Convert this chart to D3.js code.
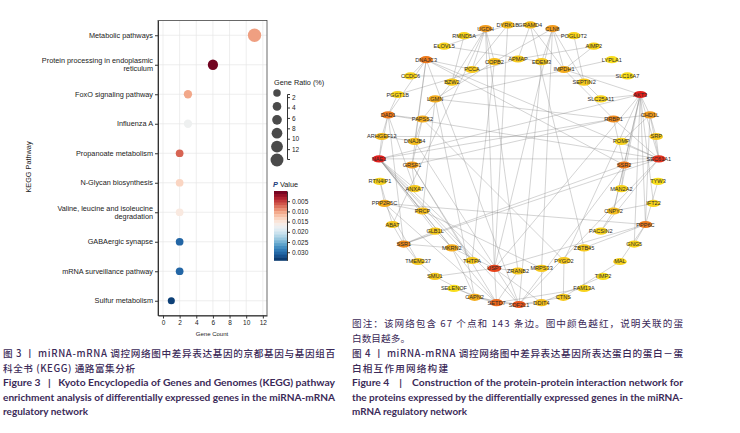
<!DOCTYPE html>
<html><head><meta charset="utf-8">
<script src="https://cdn.jsdelivr.net/npm/d3@7"></script>
<style>body{margin:0;background:#fff}svg{display:block}text{white-space:pre}</style>
</head><body>
<svg id="c" width="740" height="433"></svg>
<script>
// ---------- Figure 3 data ----------
const pathways = ["Metabolic pathways","Protein processing in endoplasmic\nreticulum","FoxO signaling pathway","Influenza A","Propanoate metabolism","N-Glycan biosynthesis","Valine, leucine and isoleucine\ndegradation","GABAergic synapse","mRNA surveillance pathway","Sulfur metabolism"];
const geneCount = [11,6,3,3,2,2,2,2,2,1];
const pValue = [0.0100,0.0005,0.0105,0.0175,0.0070,0.0135,0.0155,0.0305,0.0305,0.0330];
const geneRatio = [12.9,7.1,3.5,3.5,2.4,2.4,2.4,2.4,2.4,1.2];
const countTicks = [0,2,4,6,8,10,12];
const ratioTicks = [2,4,6,8,10,12];
const pTicks = [0.005,0.010,0.015,0.020,0.025,0.030];

// ---------- Figure 4 data ----------
const outerRing = ["GRAMD4","CLN8","POGLUT2","AIMP2","LYPLA1","SLC16A7","AKT3","CHD1L","SRP","SEC61A1","TYW3","IFT22","PPP6C","GNG5","MAL","TIMP2","FAM13A","CTNS","DDIT4","SDF2L1","SETD7","CAPN2","SELENOF","SMU1","TMEM237","SSR1","ABAT","PPP2R5C","RTN4IP1","NAE1","ARHGEF12","DAD1","PGGT1B","CCDC6","DNAJC3","ELOVL5","RMND5A","UGDH","DYRK1B"];
const innerRing = ["APMAP","EDEM3","IMPDH1","SEPTIN2","SLC25A11","RRBP1","POMP","SSR2","MAN2A2","CNPY2","PACSIN2","ZBTB45","PYGO2","MRPS33","ZRANB2","USP7","THTPA","MKRN2","GLB1L","PRCP","ANXA7","GRSF1","DNAJB4","PAPSS2","LGMN","BZW2","PCCA","COPB2"];
const edges = [
["AKT3","SEC61A1"],["AKT3","CHD1L"],["AKT3","SSR2"],["AKT3","PPP6C"],["AKT3","MAN2A2"],["AKT3","CNPY2"],["AKT3","GNG5"],["AKT3","IFT22"],["AKT3","SLC25A11"],["AKT3","NAE1"],["AKT3","USP7"],["AKT3","PYGO2"],["AKT3","IMPDH1"],
["NAE1","DAD1"],["NAE1","ARHGEF12"],["NAE1","USP7"],["NAE1","THTPA"],["NAE1","MKRN2"],["NAE1","GLB1L"],["NAE1","ANXA7"],["NAE1","PRCP"],["NAE1","SDF2L1"],["NAE1","SETD7"],["NAE1","RRBP1"],["NAE1","SEC61A1"],
["SEC61A1","SSR2"],["SEC61A1","SSR1"],["SEC61A1","DAD1"],["SEC61A1","RRBP1"],["SEC61A1","SRP"],["SEC61A1","POMP"],["SEC61A1","DNAJC3"],["SEC61A1","SDF2L1"],["SEC61A1","CHD1L"],["SEC61A1","PACSIN2"],
["USP7","SETD7"],["USP7","ZRANB2"],["USP7","SMU1"],["USP7","MKRN2"],["USP7","CLN8"],["USP7","UGDH"],["USP7","PPP6C"],["USP7","DYRK1B"],["USP7","DDIT4"],
["SDF2L1","DNAJC3"],["SDF2L1","SSR2"],["SDF2L1","DNAJB4"],["SDF2L1","CAPN2"],["SDF2L1","SETD7"],["SDF2L1","CTNS"],["SDF2L1","DDIT4"],["SDF2L1","EDEM3"],
["SETD7","CAPN2"],["SETD7","SELENOF"],["SETD7","ZRANB2"],["SETD7","PPP2R5C"],["SETD7","GRSF1"],["SETD7","FAM13A"],
["DAD1","DNAJC3"],["DAD1","PAPSS2"],["DAD1","ARHGEF12"],["DAD1","SSR1"],["DAD1","PGGT1B"],["DAD1","ANXA7"],
["DNAJC3","DNAJB4"],["DNAJC3","CCDC6"],["DNAJC3","GRSF1"],["DNAJC3","SSR2"],["DNAJC3","PCCA"],
["SSR2","SSR1"],["SSR2","RRBP1"],["SSR2","MAN2A2"],["SSR2","CNPY2"],
["PPP6C","PPP2R5C"],["PPP6C","GNG5"],["PPP6C","CHD1L"],["PPP6C","TYW3"],["PPP6C","ZBTB45"],["PPP6C","MAL"],
["RRBP1","CHD1L"],["RRBP1","IMPDH1"],["RRBP1","LGMN"],["RRBP1","GRSF1"],
["SSR1","GLB1L"],["SSR1","TMEM237"],["SSR1","ABAT"],["SSR1","MKRN2"],
["UGDH","PCCA"],["UGDH","BZW2"],["UGDH","COPB2"],["UGDH","ZRANB2"],["UGDH","ABAT"],
["CLN8","IMPDH1"],["CLN8","EDEM3"],["CLN8","SEPTIN2"],["CLN8","MRPS33"],["CLN8","COPB2"],
["IMPDH1","AIMP2"],["IMPDH1","GRAMD4"],
["CHD1L","SRP"],["CHD1L","POMP"],
["GRSF1","ANXA7"],["GRSF1","PAPSS2"],["GRSF1","THTPA"],
["PPP2R5C","RTN4IP1"],["PPP2R5C","PRCP"],["PPP2R5C","TMEM237"],
["CAPN2","SMU1"],["CAPN2","MKRN2"],["CAPN2","LGMN"],
["MKRN2","GLB1L"],
["PAPSS2","DNAJB4"],["PAPSS2","BZW2"],["PAPSS2","PYGO2"],
["DNAJB4","ARHGEF12"],
["CNPY2","PACSIN2"],["CNPY2","IFT22"],
["DYRK1B","GRAMD4"],["DYRK1B","PCCA"],["DYRK1B","ELOVL5"],
["GRAMD4","APMAP"],["GRAMD4","ZBTB45"],
["COPB2","LGMN"],["COPB2","THTPA"],
["PRCP","LGMN"],["PRCP","MRPS33"],
["TMEM237","SMU1"],["ZBTB45","FAM13A"],["PYGO2","CTNS"],["MRPS33","DDIT4"],["DDIT4","TIMP2"],["CTNS","MAL"],["ABAT","RTN4IP1"],
["SEPTIN2","SLC25A11"],["SEPTIN2","POGLUT2"],["EDEM3","ELOVL5"],["SRP","ARHGEF12"],
["AIMP2","APMAP"],["POGLUT2","RMND5A"],["LYPLA1","LGMN"],["SLC16A7","CCDC6"],["RMND5A","BZW2"],["PGGT1B","APMAP"]
];

// ---------- Captions ----------
const cap3 = ["图 3 丨 miRNA-mRNA 调控网络图中差异表达基因的京都基因与基因组百","科全书 (KEGG) 通路富集分析"];
const cap3en = ["Figure 3   |   Kyoto Encyclopedia of Genes and Genomes (KEGG) pathway","enrichment analysis of differentially expressed genes in the miRNA-mRNA","regulatory network"];
const note4 = ["图注：该网络包含 67 个点和 143 条边。图中颜色越红，说明关联的蛋","白数目越多。"];
const cap4 = ["图 4 丨 miRNA-mRNA 调控网络图中差异表达基因所表达蛋白的蛋白－蛋","白相互作用网络构建"];
const cap4en = ["Figure 4    |    Construction of the protein-protein interaction network for","the proteins expressed by the differentially expressed genes in the miRNA-","mRNA regulatory network"];

const svg = d3.select("#c");
const SANS = "'Liberation Sans', Arial, sans-serif";

// ================= Left: dot plot =================
const g = svg.append("g").attr("font-family", SANS);
const x = d3.scaleLinear().domain([-0.6, 12.5]).range([158, 267]);
const y = d3.scalePoint().domain(pathways).range([20.5, 315.5]).padding(0.5);
const rS = d3.scaleLinear().domain([1, 13]).range([3.5, 6.7]);
const pMax = 0.034;
const pCol = p => d3.interpolateRdBu(p / pMax);

g.append("rect").attr("x",158).attr("y",20.5).attr("width",109).attr("height",295).attr("fill","#fff");
g.selectAll(".vg").data(countTicks).join("line").attr("x1",d=>x(d)).attr("x2",d=>x(d)).attr("y1",20.5).attr("y2",315.5).attr("stroke","#e6e6e6").attr("stroke-width",0.7);
g.selectAll(".hg").data(pathways).join("line").attr("x1",158).attr("x2",267).attr("y1",d=>y(d)).attr("y2",d=>y(d)).attr("stroke","#e6e6e6").attr("stroke-width",0.7);
g.append("rect").attr("x",158).attr("y",20.5).attr("width",109).attr("height",295).attr("fill","none").attr("stroke","#444").attr("stroke-width",0.8);

const yAx = g.append("g").attr("transform","translate(158,0)").call(d3.axisLeft(y).tickSize(3).tickSizeOuter(0).tickFormat(""));
yAx.select(".domain").attr("stroke","#333");
yAx.selectAll(".tick line").attr("stroke","#333");
pathways.forEach(p => {
  const lines = p.split("\n");
  const t = g.append("text").attr("text-anchor","end").attr("font-size",7.3).attr("fill","#222");
  lines.forEach((l,i) => t.append("tspan").attr("x",153).attr("y", y(p) + 2.6 + (i - (lines.length-1)/2) * 8).text(l));
});

const xAx = g.append("g").attr("transform","translate(0,315.5)").call(d3.axisBottom(x).tickValues(countTicks).tickSize(3).tickSizeOuter(0).tickPadding(2));
xAx.select(".domain").attr("stroke","#333");
xAx.selectAll(".tick line").attr("stroke","#333");
xAx.selectAll("text").attr("font-size",6.5).attr("fill","#222").attr("font-family",SANS);
g.append("text").attr("x",212).attr("y",335.5).attr("text-anchor","middle").attr("font-size",6).attr("fill","#222").text("Gene Count");
g.append("text").attr("transform","translate(31,167) rotate(-90)").attr("text-anchor","middle").attr("font-size",7.3).attr("fill","#222").text("KEGG Pathway");

g.selectAll(".dot").data(pathways).join("circle")
  .attr("cx",(d,i)=>x(geneCount[i])).attr("cy",d=>y(d))
  .attr("r",(d,i)=>rS(geneRatio[i])).attr("fill",(d,i)=>pCol(pValue[i]));

// size legend
g.append("text").attr("x",274).attr("y",85).attr("font-size",7.3).attr("fill","#222").text("Gene Ratio (%)");
const ly = d3.scalePoint().domain(ratioTicks).range([93,160]);
g.selectAll(".lc").data(ratioTicks).join("circle").attr("cx",277).attr("cy",d=>ly(d)).attr("r",d=>rS(d)).attr("fill","#4a4a4a");
const rAxS = d3.scaleLinear().domain([1.4,13.9]).range([94,159]);
const rAx = g.append("g").attr("transform","translate(287,0)").call(d3.axisRight(rAxS).tickValues(ratioTicks).tickSize(3).tickSizeOuter(3).tickPadding(2));
rAx.selectAll("text").attr("font-size",6.5).attr("fill","#222").attr("font-family",SANS);
rAx.selectAll("path,line").attr("stroke","#333");

// colour legend
const pt = g.append("text").attr("x",273).attr("y",186.5).attr("font-size",7.3).attr("fill","#222");
pt.append("tspan").attr("font-style","italic").attr("font-weight","bold").attr("fill","#1d3c7c").text("P");
pt.append("tspan").text(" Value");
const cbS = d3.scaleLinear().domain([0,pMax]).range([191,260.4]);
const nb = 24;
const bands = d3.range(nb).map(i => [i*pMax/nb, (i+1)*pMax/nb]);
g.selectAll(".cb").data(bands).join("rect").attr("x",274).attr("width",13)
  .attr("y",d=>cbS(d[0])).attr("height",d=>cbS(d[1])-cbS(d[0])+0.4)
  .attr("fill",d=>pCol((d[0]+d[1])/2));
const cAx = g.append("g").attr("transform","translate(287,0)").call(d3.axisRight(cbS).tickValues(pTicks).tickFormat(d3.format(".3f")).tickSize(3).tickSizeOuter(0).tickPadding(2));
cAx.selectAll("text").attr("font-size",6.5).attr("fill","#222").attr("font-family",SANS);
cAx.selectAll("path,line").attr("stroke","#333");

// ================= Right: PPI network =================
const net = svg.append("g").attr("font-family", SANS);
const cx = 519, cy = 164.5;
const aOut = d3.scaleLinear().domain([0, outerRing.length]).range([0, 2*Math.PI]);
const aIn = d3.scaleLinear().domain([0, innerRing.length]).range([0, 2*Math.PI]);
const pos = {};
outerRing.forEach((n,i)=>{ const a = aOut(i+0.5); pos[n] = [cx + 140*Math.sin(a), cy - 140*Math.cos(a)]; });
innerRing.forEach((n,i)=>{ const a = aIn(i); pos[n] = [cx - 1 + 106*Math.sin(a), cy + 0.5 - 106*Math.cos(a)]; });
const deg = {};
edges.forEach(([a,b])=>{ deg[a]=(deg[a]||0)+1; deg[b]=(deg[b]||0)+1; });
const nCol = d3.scaleLinear().domain([1,4,8,13]).range(["#f9de1c","#f5bd1d","#ee7a1c","#e3201c"]);

net.selectAll(".e").data(edges).join("line")
  .attr("x1",d=>pos[d[0]][0]).attr("y1",d=>pos[d[0]][1])
  .attr("x2",d=>pos[d[1]][0]).attr("y2",d=>pos[d[1]][1])
  .attr("stroke","#8c8c8c").attr("stroke-width",0.5).attr("stroke-opacity",0.75);
const nodes = outerRing.concat(innerRing);
net.selectAll(".n").data(nodes).join("ellipse")
  .attr("cx",d=>pos[d][0]).attr("cy",d=>pos[d][1]).attr("rx",6.8).attr("ry",3.6)
  .attr("fill",d=>nCol(deg[d]||1));
net.selectAll(".nl").data(nodes).join("text")
  .attr("x",d=>pos[d][0]).attr("y",d=>pos[d][1]+2).attr("text-anchor","middle")
  .attr("font-size",5.6).attr("fill","#2a2a2a").text(d=>d);

// ================= Captions =================
const CJK = "'Noto Sans CJK SC', sans-serif";
const EN = "Lato, 'Open Sans', sans-serif";
const capCol = "#3b2a58";
function line(txt, x0, x1, yb, font, weight, adj){
  const t = svg.append("text").attr("x",x0).attr("y",yb).attr("font-family",font)
    .attr("font-size",9.6).attr("font-weight",weight).attr("fill",capCol)
    .attr("xml:space","preserve").text(txt);
  if (x1) t.attr("textLength", x1 - x0).attr("lengthAdjust", adj);
  return t;
}
line(cap3[0], 3, 335, 357, CJK, 500, "spacing");
line(cap3[1], 3, 135, 371.5, CJK, 500, "spacing");
line(cap3en[0], 3, 335, 386, EN, 700, "spacingAndGlyphs");
line(cap3en[1], 3, 335, 400.5, EN, 700, "spacingAndGlyphs");
line(cap3en[2], 3, 88, 415, EN, 700, "spacingAndGlyphs");

line(note4[0], 352, 683, 327, CJK, 400, "spacing");
line(note4[1], 352, 410, 341.5, CJK, 400, "spacing");
line(cap4[0], 352, 683, 357, CJK, 500, "spacing");
line(cap4[1], 352, 448, 371.5, CJK, 500, "spacing");
line(cap4en[0], 352, 683, 386, EN, 700, "spacingAndGlyphs");
line(cap4en[1], 352, 683, 400.5, EN, 700, "spacingAndGlyphs");
line(cap4en[2], 352, 467, 415, EN, 700, "spacingAndGlyphs");
</script>
</body></html>
